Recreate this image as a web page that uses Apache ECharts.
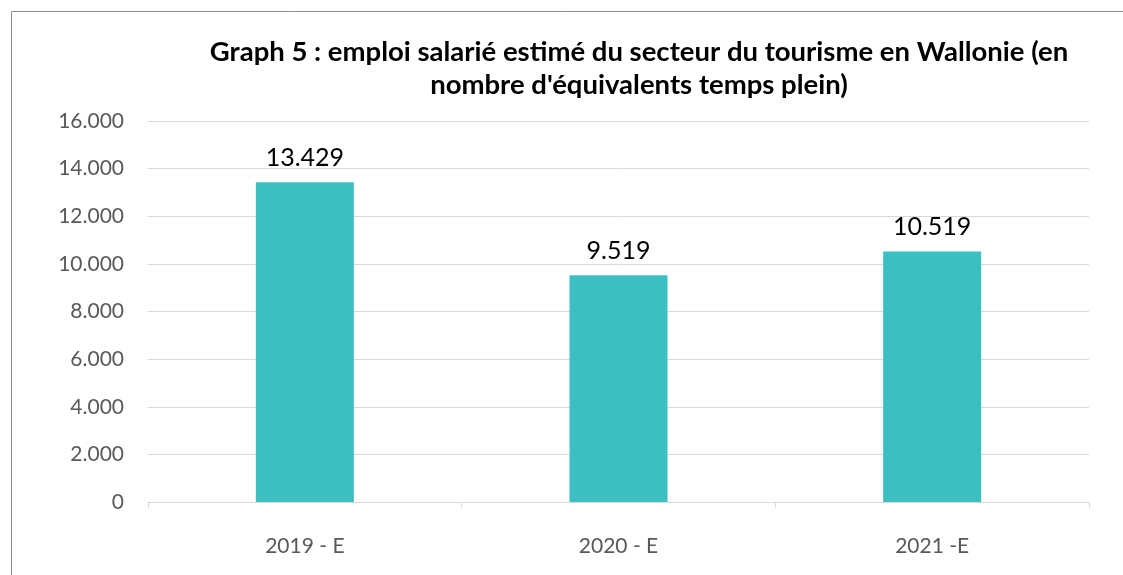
<!DOCTYPE html>
<html><head><meta charset="utf-8">
<script src="https://cdn.jsdelivr.net/npm/echarts@6/dist/echarts.min.js"></script>
<style>html,body{margin:0;padding:0;background:#fff}#c{width:1123px;height:575px}</style>
</head><body><div id="c"></div>
<script>
const categories = ['2019 - E', '2020 - E', '2021 -E'];
const values = [13429, 9519, 10519];
const yTicks = [0, 2000, 4000, 6000, 8000, 10000, 12000, 14000, 16000];
const titleText = "Graph 5 : emploi salarié estimé du secteur du tourisme en Wallonie (en\nnombre d'équivalents temps plein)";

function fmt(v){ return String(v).replace(/\B(?=(\d{3})+(?!\d))/g, '.'); }

const chart = echarts.init(document.getElementById('c'));
chart.setOption({
  animation: false,
  backgroundColor: '#fff',
  graphic: [{type:'rect', shape:{x:11.5,y:11.5,width:1200,height:700}, style:{fill:'none', stroke:'#8c8c8c', lineWidth:1}, silent:true}],
  title: {
    text: titleText, left: 634, textAlign: 'center', top: 31,
    textStyle: {fontFamily:'Lato', fontWeight:'bold', fontSize:27.5, color:'#000', lineHeight:33}
  },
  grid: {left:148, right:34, top:121, bottom:73},
  xAxis: {
    type:'category', data:categories,
    axisLine:{lineStyle:{color:'#d9d9d9'}},
    axisTick:{show:true, length:6, lineStyle:{color:'#d9d9d9'}},
    axisLabel:{color:'#595959', fontFamily:'Lato', fontSize:21, margin:34}
  },
  yAxis: {
    type:'value', min:yTicks[0], max:yTicks[yTicks.length-1], interval:2000,
    axisLine:{show:false}, axisTick:{show:false},
    splitLine:{lineStyle:{color:'#d9d9d9'}},
    axisLabel:{color:'#595959', fontFamily:'Lato', fontSize:21, margin:24, formatter:fmt}
  },
  series: [{
    type:'bar', data:values, barWidth:98,
    itemStyle:{color:'#3bbfc3'},
    label:{show:true, position:'top', distance:12, color:'#000', fontFamily:'Lato', fontSize:25, formatter:p=>fmt(p.value)}
  }]
});
</script></body></html>
